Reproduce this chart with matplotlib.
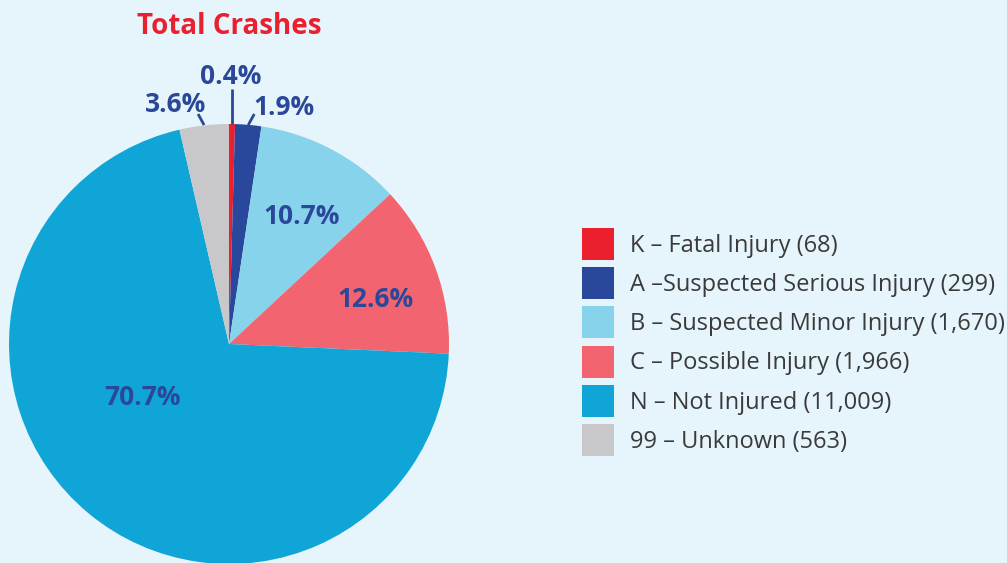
import numpy as np
import matplotlib.pyplot as plt
from matplotlib.patches import Patch

# data
categories = ["K – Fatal Injury", "A –Suspected Serious Injury", "B – Suspected Minor Injury",
              "C – Possible Injury", "N – Not Injured", "99 – Unknown"]
counts = [68, 299, 1670, 1966, 11009, 563]
colors = ["#EC1F2E", "#2A489B", "#87D3EC", "#F2646F", "#0FA6D7", "#C8C8CA"]

BG = "#E6F5FB"
LBL = "#2B4799"
plt.rcParams['font.family'] = ['Open Sans', 'DejaVu Sans']

fig = plt.figure(figsize=(10.07, 5.63), dpi=100, facecolor=BG)
ax = fig.add_axes([0, 0, 1, 1])
ax.set_facecolor(BG)

H = 563
cx, cy, R = 229, H - 344, 220
total = sum(counts)
pcts = [c / total * 100 for c in counts]

wedges, _ = ax.pie(counts, colors=colors, startangle=90, counterclock=False,
                   center=(cx, cy), radius=R, frame=True,
                   wedgeprops=dict(linewidth=0))
ax.set_xlim(0, 1007)
ax.set_ylim(0, H)
ax.set_aspect("equal")
ax.axis("off")

# label placement: (radius factor, angle tweak)
place = [(1.225, 0.5), (1.115, -8), (0.675, -1.3),
         (0.70, -2.8), (0.46, -19.5), (1.125, 6)]
for w, p, (rf, dth) in zip(wedges, pcts, place):
    mid = np.deg2rad((w.theta1 + w.theta2) / 2 + dth)
    tx, ty = cx + rf * R * np.cos(mid), cy + rf * R * np.sin(mid)
    ax.text(tx, ty - 2, f"{p:.1f}%", ha="center", va="center", fontsize=19,
            fontweight="bold", color=LBL)

# leader lines for the small slices
m = [np.deg2rad((w.theta1 + w.theta2) / 2) for w in wedges]
x0 = cx + R * np.cos(m[0])
ax.plot([x0, x0], [H - 124, H - 89], color=LBL, lw=2, solid_capstyle="butt")
x1 = cx + R * np.cos(m[1])
ax.plot([x1, x1 + 6], [H - 125, H - 114], color=LBL, lw=2, solid_capstyle="butt")
x5 = cx + R * np.cos(m[5])
ax.plot([x5, x5 - 6], [H - 125, H - 114], color=LBL, lw=2, solid_capstyle="butt")

ax.text(cx, H - 26, "Total Crashes", ha="center", va="center", fontsize=20,
        fontweight="bold", color="#E8202F")

handles = [Patch(facecolor=c, edgecolor="none") for c in colors]
labels = [f"{n} ({c:,})" for n, c in zip(categories, counts)]
leg = fig.legend(handles, labels, loc="center left", bbox_to_anchor=(0.5566, 0.3925),
                 frameon=False, fontsize=17, handlelength=1.36, handleheight=1.72,
                 labelspacing=0.3, handletextpad=0.68, labelcolor="#3A3A3A")

fig.savefig("out.png", dpi=100, facecolor=BG)
